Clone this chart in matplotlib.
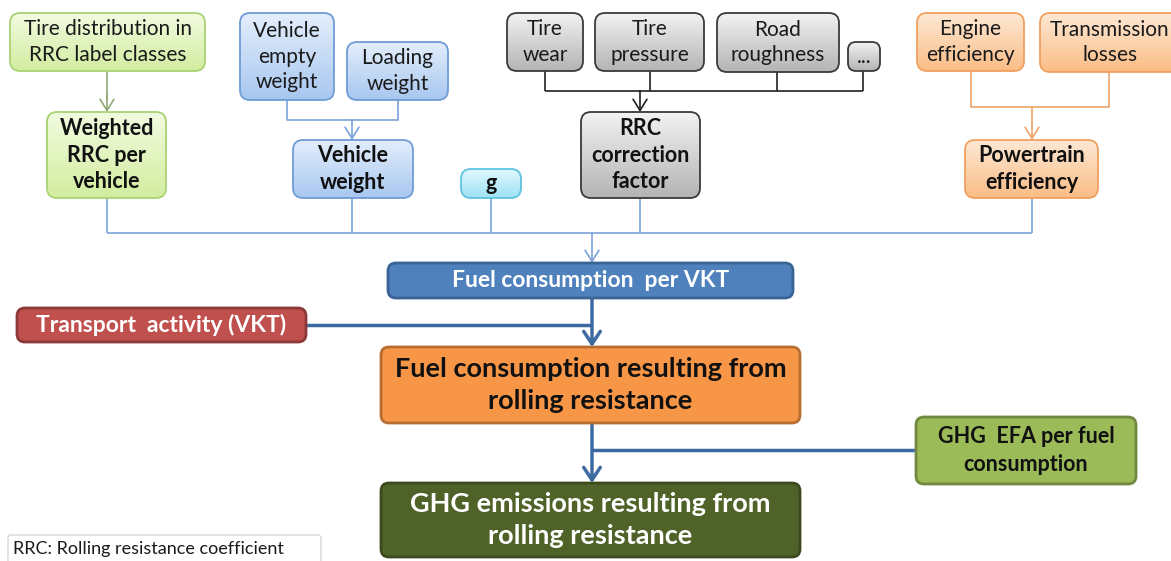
import matplotlib.pyplot as plt
import numpy as np
from matplotlib.colors import to_rgb
from matplotlib.patches import FancyArrowPatch, FancyBboxPatch

plt.rcParams["font.family"] = ["Lato", "DejaVu Sans"]

W, H = 1171, 561

# node labels
input_labels = [
    "Tire distribution in\nRRC label classes",
    "Vehicle\nempty\nweight",
    "Loading\nweight",
    "Tire\nwear",
    "Tire\npressure",
    "Road\nroughness",
    "...",
    "Engine\nefficiency",
    "Transmission\nlosses",
]
factor_labels = [
    "Weighted\nRRC per\nvehicle",
    "Vehicle\nweight",
    "g",
    "RRC\ncorrection\nfactor",
    "Powertrain\nefficiency",
]
main_labels = [
    "Fuel consumption  per VKT",
    "Transport  activity (VKT)",
    "Fuel consumption resulting from\nrolling resistance",
    "GHG  EFA per fuel\nconsumption",
    "GHG emissions resulting from\nrolling resistance",
]
note_label = "RRC: Rolling resistance coefficient"

# layout in pixels: x0, y0, x1, y1
input_boxes = [
    (10, 13, 205, 71),
    (240, 13, 334, 100),
    (347, 42, 448, 100),
    (507, 13, 583, 71),
    (595, 13, 704, 71),
    (717, 13, 839, 72),
    (848, 42, 880, 71),
    (917, 13, 1024, 71),
    (1040, 13, 1180, 72),
]
factor_boxes = [
    (47, 112, 166, 198),
    (293, 140, 413, 198),
    (461, 169, 521, 198),
    (581, 112, 700, 198),
    (965, 140, 1098, 198),
]
main_boxes = [
    (388, 263, 793, 298),
    (17, 308, 306, 342),
    (381, 347, 800, 423),
    (916, 417, 1136, 484),
    (381, 483, 800, 557),
]

themes = {
    "green": ("#f2fbe0", "#d2eda0", "#a9d274"),
    "blue": ("#e3eefc", "#a8c7f0", "#6f9bd6"),
    "cyan": ("#e2f8fd", "#9de2f4", "#5fc3e0"),
    "gray": ("#f2f2f2", "#b4b4b4", "#3a3a3a"),
    "orange": ("#fde8d4", "#fbbd86", "#f0a060"),
}
input_themes = ["green", "blue", "blue", "gray", "gray", "gray", "gray", "orange", "orange"]
factor_themes = ["green", "blue", "cyan", "gray", "orange"]
main_fills = ["#4f81bd", "#c0504d", "#f79646", "#9bbb59", "#4f6228"]
main_edges = ["#3a6496", "#8c3836", "#b66d31", "#71893f", "#3a4a1d"]
main_text = ["white", "white", "#111111", "#111111", "white"]
main_size = [16.5, 16.5, 19.5, 15.5, 19.5]
main_spacing = [1.2, 1.2, 1.4, 1.45, 1.4]


def gradient_box(ax, box, theme, radius=10):
    x0, y0, x1, y1 = box
    top, bottom, edge = themes[theme]
    patch = FancyBboxPatch(
        (x0, y0), x1 - x0, y1 - y0,
        boxstyle=f"round,pad=0,rounding_size={radius}",
        facecolor="none", edgecolor=edge, linewidth=1.3, zorder=3,
    )
    ax.add_patch(patch)
    grad = np.linspace(0, 1, 64)[:, None, None]
    img = (1 - grad) * np.array(to_rgb(top)) + grad * np.array(to_rgb(bottom))
    im = ax.imshow(img, extent=(x0, x1, y1, y0), aspect="auto", zorder=2)
    im.set_clip_path(patch)


def solid_box(ax, box, fill, edge, radius=8):
    x0, y0, x1, y1 = box
    ax.add_patch(FancyBboxPatch(
        (x0, y0), x1 - x0, y1 - y0,
        boxstyle=f"round,pad=0,rounding_size={radius}",
        facecolor=fill, edgecolor=edge, linewidth=2, zorder=3,
    ))


def centre(box):
    x0, y0, x1, y1 = box
    return (x0 + x1) / 2, (y0 + y1) / 2


def line(ax, xs, ys, color, lw=1.2):
    ax.plot(xs, ys, color=color, linewidth=lw, zorder=1, solid_capstyle="butt")


def arrow(ax, x, y0, y1, color, lw=1.2, head=(8, 5)):
    ax.add_patch(FancyArrowPatch(
        (x, y0), (x, y1),
        arrowstyle=f"->,head_length={head[0] / 10},head_width={head[1] / 10}",
        color=color, linewidth=lw, mutation_scale=10, zorder=1,
        shrinkA=0, shrinkB=0,
    ))


fig = plt.figure(figsize=(W / 100, H / 100), dpi=100)
ax = fig.add_axes([0, 0, 1, 1])
ax.set_xlim(0, W)
ax.set_ylim(H, 0)
ax.axis("off")

# connectors
green_c, blue_c, gray_c, orange_c = "#8fa877", "#7ba3d8", "#202020", "#eea46a"
dark_blue = "#3d6aa0"

line(ax, [107, 107], [71, 100], green_c)
arrow(ax, 107, 95, 112, green_c)

line(ax, [287, 287, 398, 398], [100, 120, 120, 100], blue_c)
arrow(ax, 352, 120, 140, blue_c)

for x in [545, 650, 777]:
    line(ax, [x, x], [71, 91], gray_c)
line(ax, [863, 863], [71, 91], gray_c)
line(ax, [545, 863], [91, 91], gray_c)
arrow(ax, 640, 91, 112, gray_c)

line(ax, [971, 971, 1109, 1109], [71, 107, 107, 72], orange_c)
arrow(ax, 1032, 107, 140, orange_c)

for x in [107, 352, 491, 640, 1032]:
    line(ax, [x, x], [198, 233], blue_c)
line(ax, [107, 1032], [233, 233], blue_c)
arrow(ax, 592, 233, 263, blue_c)

line(ax, [306, 592], [325, 325], dark_blue, lw=2.5)
arrow(ax, 592, 298, 347, dark_blue, lw=2.5, head=(9, 6))
line(ax, [592, 916], [450, 450], dark_blue, lw=2.5)
arrow(ax, 592, 423, 483, dark_blue, lw=2.5, head=(9, 6))

# boxes
for label, box, theme in zip(input_labels, input_boxes, input_themes):
    gradient_box(ax, box, theme, radius=8 if label == "..." else 10)
    cx, cy = centre(box)
    ax.text(cx, cy, label, ha="center", va="center", fontsize=15,
            color="#1a1a1a", linespacing=1.35, zorder=4)

for label, box, theme in zip(factor_labels, factor_boxes, factor_themes):
    gradient_box(ax, box, theme)
    cx, cy = centre(box)
    ax.text(cx, cy, label, ha="center", va="center", fontsize=15.5,
            fontweight="bold", color="#111111", linespacing=1.3, zorder=4)

for i, (label, box) in enumerate(zip(main_labels, main_boxes)):
    solid_box(ax, box, main_fills[i], main_edges[i])
    cx, cy = centre(box)
    ax.text(cx, cy, label, ha="center", va="center", fontsize=main_size[i],
            fontweight="bold", color=main_text[i],
            linespacing=main_spacing[i], zorder=4)

ax.add_patch(FancyBboxPatch(
    (8, 535), 313, 30, boxstyle="round,pad=0,rounding_size=3",
    facecolor="white", edgecolor="#d8d8d8", linewidth=1, zorder=3,
))
ax.text(13, 549, note_label, ha="left", va="center", fontsize=13,
        color="#1a1a1a", zorder=4)

fig.savefig("out.png", dpi=100)
